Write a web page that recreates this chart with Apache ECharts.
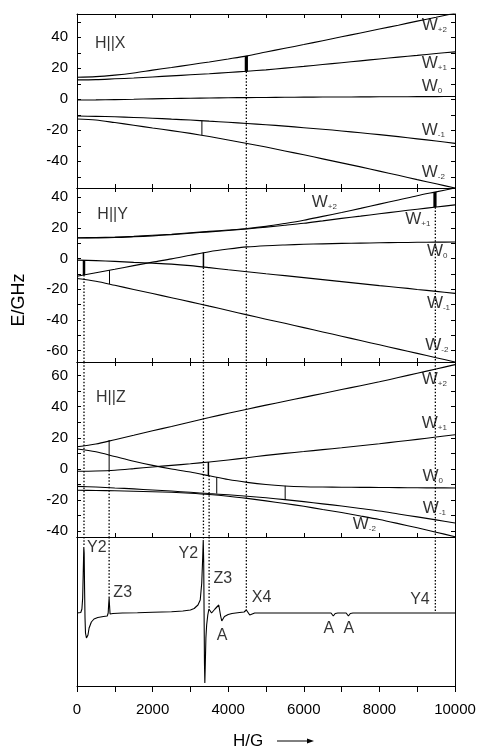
<!DOCTYPE html>
<html><head><meta charset="utf-8">
<script src="https://cdn.jsdelivr.net/npm/echarts@6/dist/echarts.min.js"></script>
<style>html,body{margin:0;padding:0;background:#fff}#c{width:482px;height:747px}</style>
</head><body><div id="c"></div>
<script>
// ---------- DATA ----------
const H = [0,500,1000,1500,2000,2500,3000,3500,4000,4500,5000,5500,6000,6500,7000,7500,8000,8500,9000,9500,10000];

// H || X
const xWp2 = [14.2,14.6,15.6,17,18.8,20.5,22.3,24.1,26,28,30.5,32.9,35.3,37.8,40.3,42.8,45.3,47.8,50.4,52.9,55.5];
const xWp1 = [12.5,12.7,13.2,13.7,14.4,15.1,15.8,16.5,17.3,18.1,19,20.1,21.2,22.4,23.6,24.8,26,27.2,28.3,29.5,30.6];
const xW0  = [-0.5,-0.4,-0.2,0,0.3,0.5,0.7,0.85,1,1.1,1.2,1.3,1.4,1.45,1.5,1.55,1.6,1.65,1.7,1.75,1.8];
const xWm1 = [-10.8,-11,-11.3,-11.7,-12.2,-12.8,-13.4,-14.1,-14.8,-15.6,-16.4,-17.3,-18.3,-19.3,-20.4,-21.6,-22.8,-24.1,-25.5,-26.9,-28.4];
const xWm2 = [-12.7,-13.4,-15,-16.7,-18.5,-20.2,-22,-24,-26.2,-28.5,-30.8,-33.3,-35.8,-38.4,-41,-43.6,-46.3,-49,-51.8,-54.5,-57.2];

// H || Y
const yWp2 = [13.6,13.7,14,14.5,15.2,15.9,16.8,17.7,18.6,19.6,21,22.9,25,27.5,30,32.7,35.5,38.2,41,43.5,46];
const yWp1 = [13.4,13.5,13.7,14.2,14.8,15.6,16.5,17.4,18.3,19.3,20.5,21.7,23,24.6,26.2,27.7,29.2,30.7,32.2,33.6,35];
const yW0  = [-11.5,-9.2,-7,-4.6,-2.3,-0.2,2.2,4.5,6.2,7.6,8.4,8.9,9.3,9.6,9.9,10.1,10.3,10.45,10.6,10.7,10.8];
const yWm1 = [-1,-1.3,-1.8,-2.5,-3,-3.6,-4.6,-5.9,-7.3,-8.6,-9.9,-11.1,-12.4,-13.7,-15,-16.3,-17.6,-18.8,-20.1,-21.4,-22.7];
const yWm2 = [-13,-14.8,-17.4,-20.1,-22.8,-25.5,-28.2,-31,-33.8,-36.7,-39.5,-42.2,-45,-47.8,-50.6,-53.4,-56.2,-59,-61.8,-64.6,-67.4];

// H || Z
const zWp2 = [14.3,16,18.8,21.6,24.5,27.3,30.2,33,35.8,38.4,41,43.5,46,48.5,51,53.5,56,58.7,61.5,64.2,67];
const zWp1 = [-1.5,-1.3,-0.8,0.2,1.3,2.3,3.3,4.5,5.8,7.2,8.7,10,11.2,12.4,13.6,14.9,16.2,17.6,19,20.5,22];
const zW0  = [12.8,11,8,5,2.3,0,-2,-4.4,-6.8,-8.6,-10,-10.9,-11.4,-11.6,-11.7,-11.8,-11.9,-12,-12.1,-12.15,-12.2];
const zWm1 = [-11.2,-11.6,-12.2,-12.8,-13.5,-14.2,-15,-15.8,-16.6,-17.5,-18.5,-19.7,-21,-22.4,-23.8,-25.4,-27,-28.9,-30.8,-32.7,-34.7];
const zWm2 = [-13.7,-13.8,-14,-14.3,-14.6,-15,-15.6,-16.4,-17.5,-18.9,-20.5,-22.2,-24,-26,-28,-30.2,-32.5,-35.1,-37.8,-40.6,-43.5];

// transitions [H, E1, E2]
const transX = [[3304,-13.8,-23],[4480,18,27.9]];
const transY = [[185,-1.1,-10.7],[860,-7.5,-16.6],[3345,3.9,-5.8],[9470,33.5,43.4]];
const transZ = [[850,-0.9,18.6],[3476,4.5,-4.2],[3697,-5.3,-15.8],[5507,-10.8,-19.5]];

// resonance guide lines [H, start value] (null = passes through the whole panel)
const dotX = [[4480,18]];
const dotY = [[185,-10.7],[3345,-5.8],[4480,null],[9480,33.5]];
const dotZ = [[185,null],[850,-0.9],[3345,null],[3495,-4.2],[4480,null],[9480,null]];
const dotS = [[185,66],[850,15],[3345,73],[3495,5],[4480,3],[9480,0]];

// EPR spectrum
const specH = [0,100,130,150,165,180,190,200,212,225,250,270,290,320,380,450,550,700,800,825,840,850,860,875,950,1200,1600,2000,2500,2800,3000,3100,3200,3260,3300,3325,3340,3352,3362,3372,3382,3395,3410,3430,3460,3490,3510,3560,3600,3650,3700,3750,3775,3800,3830,3860,3900,4000,4100,4300,4420,4480,4520,4570,4620,4700,6720,6780,6830,6900,7120,7180,7230,7300,10000];
const specI = [0,0.5,4,15,40,66,60,25,-5,-20,-25,-26,-22,-15,-9,-6,-4.5,-3.5,-3,0,10,15,8,-1,-0.5,0,0.3,0.7,1.3,2,3,4.5,8,13,30,55,73,50,0,-50,-70,-50,-25,-12,-2,4,5,0,-1,4,5,8,6,-3,-8,-6,-3.5,-1.5,-0.5,0.5,1,3,1,-2,-1,0,0,-3,-0.5,0,0,-3,-0.5,0,0];

// text labels [H, E, text]
const textX = [[476,36.1,'H||X'],[9120,47.5,'W|+2'],[9120,23.5,'W|+1'],[9120,8.4,'W|0'],[9120,-20.3,'W|-1'],[9120,-47.2,'W|-2']];
const textY = [[538,28.7,'H||Y'],[6211,36.4,'W|+2'],[8682,25.7,'W|+1'],[9256,4.7,'W|0'],[9256,-29.4,'W|-1'],[9211,-56.5,'W|-2']];
const textZ = [[503,45.6,'H||Z'],[9120,57.4,'W|+2'],[9120,29.3,'W|+1'],[9140,-4.8,'W|0'],[9150,-25.5,'W|-1'],[7297,-35.3,'W|-2']];
const textS = [[265,65,'Y2'],[2687,59.7,'Y2'],[962,20.2,'Z3'],[3608,34,'Z3'],[4624,15.5,'X4'],[3697,-23,'A'],[6520,-16,'A'],[7050,-16,'A'],[8814,13,'Y4']];

// axes
const yTicksX = [-50,-40,-30,-20,-10,0,10,20,30,40,50];
const yLabX = [-40,-20,0,20,40];
const yTicksY = [-60,-50,-40,-30,-20,-10,0,10,20,30,40];
const yLabY = [-60,-40,-20,0,20,40];
const yTicksZ = [-40,-30,-20,-10,0,10,20,30,40,50,60];
const yLabZ = [-40,-20,0,20,40,60];

// ---------- CHART ----------
const FONT = '"Liberation Sans", Arial, sans-serif';
const BLACK = '#000';
const panels = [
  {lines:[xWp2,xWp1,xW0,xWm1,xWm2], ymin:-57.2, ymax:55, ticks:yTicksX, labs:yLabX, trans:transX, tw:[1,3.2], dots:dotX, texts:textX, top:14, h:174},
  {lines:[yWp2,yWp1,yW0,yWm1,yWm2], ymin:-67.4, ymax:46, ticks:yTicksY, labs:yLabY, trans:transY, tw:[2.5,1,1.5,3.2], dots:dotY, texts:textY, top:188, h:174},
  {lines:[zWp2,zWp1,zW0,zWm1,zWm2], ymin:-43.7, ymax:68.7, ticks:yTicksZ, labs:yLabZ, trans:transZ, tw:[1,1.5,1,1], dots:dotZ, texts:textZ, top:362, h:175}
];
const spec = {ymin:-73, ymax:76, top:537, h:149};

const grid = [], xAxis = [], yAxis = [], series = [];
const axLine = {show:true, onZero:false, lineStyle:{color:BLACK, width:1}};

function addAxes(i, p, isSpec, isLast){
  grid.push({left:77, right:27, top:p.top, height:p.h, containLabel:false});
  xAxis.push({type:'value', gridIndex:i, min:0, max:10000, interval:1000, position:'bottom',
    axisLine:axLine, splitLine:{show:false},
    axisTick:{show:true, inside:!isLast, length:isLast?6:4, lineStyle:{color:BLACK}},
    axisLabel:{show:isLast, margin:16, fontSize:15, color:BLACK, fontFamily:FONT,
      formatter:v => (v % 2000 === 0 ? String(v) : '')}});
  xAxis.push({type:'value', gridIndex:i, min:0, max:10000, interval:1000, position:'top',
    axisLine:axLine, splitLine:{show:false},
    axisTick:{show:!isSpec, inside:true, length:4, lineStyle:{color:BLACK}},
    axisLabel:{show:false}});
  if (isSpec) {
    yAxis.push({type:'value', gridIndex:i, min:p.ymin, max:p.ymax, position:'left', axisLine:axLine,
      axisTick:{show:false}, axisLabel:{show:false}, splitLine:{show:false}});
    yAxis.push({type:'value', gridIndex:i, min:p.ymin, max:p.ymax, position:'right', axisLine:axLine,
      axisTick:{show:false}, axisLabel:{show:false}, splitLine:{show:false}});
  } else {
    yAxis.push({type:'value', gridIndex:i, min:p.ymin, max:p.ymax, position:'left', axisLine:axLine,
      splitLine:{show:false},
      axisTick:{show:true, inside:true, length:4, customValues:p.ticks, lineStyle:{color:BLACK}},
      axisLabel:{show:true, customValues:p.labs, margin:9, fontSize:15, color:BLACK, fontFamily:FONT}});
    yAxis.push({type:'value', gridIndex:i, min:p.ymin, max:p.ymax, position:'right', axisLine:axLine,
      splitLine:{show:false},
      axisTick:{show:true, inside:true, length:4, customValues:p.ticks, lineStyle:{color:BLACK}},
      axisLabel:{show:false}});
  }
}

const rich = {
  w:{fontSize:17, fontFamily:FONT, color:BLACK},
  s:{fontSize:8, fontFamily:FONT, color:BLACK, verticalAlign:'bottom', padding:[9,0,0,0]},
  t:{fontSize:16, fontFamily:FONT, color:BLACK}
};
function fmtText(t){
  if (t.indexOf('W|') === 0) return '{w|W}{s|' + t.slice(2) + '}';
  return '{t|' + t + '}';
}
function addTexts(i, texts){
  series.push({type:'scatter', xAxisIndex:2*i, yAxisIndex:2*i, symbolSize:0, silent:true, z:10,
    data:texts.map(t => ({value:[t[0], t[1]], name:t[2]})),
    label:{show:true, position:[0,0], align:'left', verticalAlign:'middle',
      formatter:pp => fmtText(pp.name), rich:rich}});
}

panels.forEach((p, i) => {
  addAxes(i, p, false, false);
  p.lines.forEach(arr => {
    series.push({type:'line', xAxisIndex:2*i, yAxisIndex:2*i, data:H.map((h,k)=>[h, arr[k]]),
      smooth:0.3, showSymbol:false, silent:true,
      lineStyle:{color:BLACK, width:1.1}, z:3});
  });
  p.trans.forEach((t, k) => {
    series.push({type:'line', xAxisIndex:2*i, yAxisIndex:2*i, data:[[t[0],t[1]],[t[0],t[2]]],
      showSymbol:false, silent:true, lineStyle:{color:BLACK, width:p.tw[k]}, z:4});
  });
  p.dots.forEach(d => {
    const start = d[1] === null ? p.ymax : d[1];
    series.push({type:'line', xAxisIndex:2*i, yAxisIndex:2*i, data:[[d[0],start],[d[0],p.ymin]],
      showSymbol:false, silent:true, lineStyle:{color:BLACK, width:1.3, type:[1.5,1.8]}, z:2});
  });
  addTexts(i, p.texts);
});

// spectrum
addAxes(3, spec, true, true);
series.push({type:'line', xAxisIndex:6, yAxisIndex:6, data:specH.map((h,k)=>[h, specI[k]]),
  showSymbol:false, silent:true, lineStyle:{color:BLACK, width:1.1}, z:3});
dotS.forEach(d => {
  series.push({type:'line', xAxisIndex:6, yAxisIndex:6, data:[[d[0],spec.ymax],[d[0],d[1]]],
    showSymbol:false, silent:true, lineStyle:{color:BLACK, width:1.3, type:[1.5,1.8]}, z:2});
});
addTexts(3, textS);

const chart = echarts.init(document.getElementById('c'), null, {renderer:'canvas'});
chart.setOption({
  animation:false,
  backgroundColor:'#fff',
  grid, xAxis, yAxis, series,
  graphic:[
    {type:'text', x:19, y:300, rotation:Math.PI/2, style:{text:'E/GHz', fontSize:18, fontFamily:FONT, fill:BLACK, align:'center', verticalAlign:'middle'}},
    {type:'text', x:233, y:741, style:{text:'H/G', fontSize:17, fontFamily:FONT, fill:BLACK, verticalAlign:'middle'}},
    {type:'line', shape:{x1:277, y1:741, x2:309, y2:741}, style:{stroke:BLACK, lineWidth:1}},
    {type:'polygon', shape:{points:[[314,741],[307,738.5],[307,743.5]]}, style:{fill:BLACK}}
  ]
});
</script></body></html>
